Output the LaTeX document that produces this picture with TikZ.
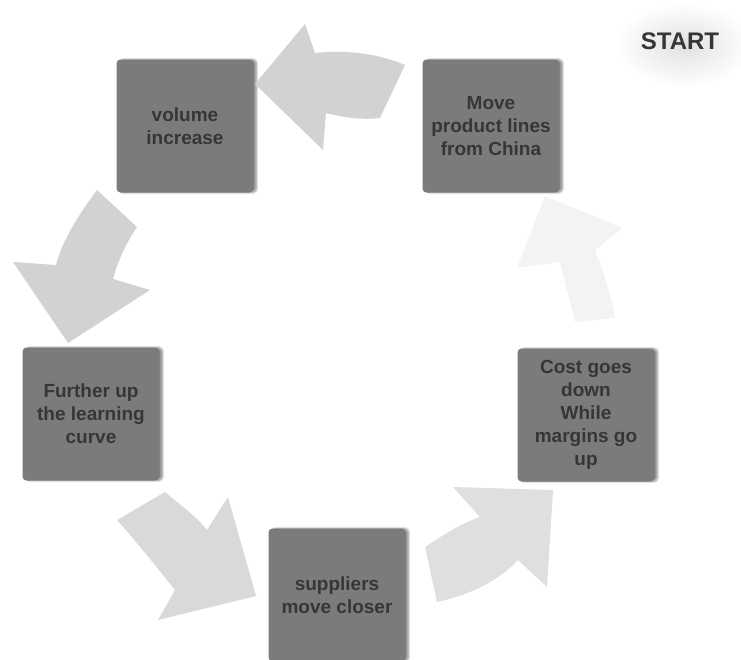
\documentclass[tikz,border=0pt]{standalone}
\usepackage{fontspec}
\setmainfont{Liberation Sans}
\usepackage{tikz}
\usetikzlibrary{shadows.blur}
\definecolor{boxGray}{HTML}{7B7B7B}
\definecolor{txtGray}{HTML}{363636}
\definecolor{arrGray}{HTML}{D2D2D2}
\definecolor{arrPale}{HTML}{F3F3F3}

\begin{document}
\begin{tikzpicture}[x=1pt,y=-1pt,
  stage/.style={fill=boxGray,rounded corners=4pt,text=txtGray,inner sep=0pt,
    font=\fontsize{19}{23}\selectfont\bfseries,align=center,
    minimum width=137pt,minimum height=133pt,
    blur shadow={shadow xshift=3pt,shadow yshift=0pt,shadow blur steps=6,shadow opacity=45}},
  bigarrow/.style={fill=arrGray,draw=none}]
\useasboundingbox (0,0) rectangle (741,659);
% glow behind the start label
\shade[inner color=black!12,outer color=white] (684,45) ellipse (68 and 42);
\node[font=\fontsize{24}{28}\selectfont\bfseries,text=txtGray] (start) at (680,41){START};
% the five stages of the cycle
\node[stage] (move)    at (491,126){Move\\product lines\\from China};
\node[stage] (volume)  at (185,126){volume\\increase};
\node[stage] (further) at (91,414){Further up\\the learning\\curve};
\node[stage] (supp)    at (337,595){suppliers\\move closer};
\node[stage] (cost)    at (586,415){Cost goes\\down\\While\\margins go\\up};
% block arrows between the stages
\fill[bigarrow] (405,65) .. controls (375,52) and (340,50) .. (315,53) -- (305,24) -- (255,84)
  -- (323,150) -- (326,113) .. controls (345,118) and (365,120) .. (380,118) -- cycle;
\fill[bigarrow] (97,190) .. controls (82,210) and (62,240) .. (56,265) -- (13,262) -- (68,343)
  -- (150,290) -- (113,279) .. controls (118,260) and (128,240) .. (137,227) -- cycle;
\fill[bigarrow,fill=arrGray!85] (117,520) -- (165,492) .. controls (180,505) and (195,515) .. (207,530)
  -- (228,497) -- (256,596) -- (158,620) -- (175,590) .. controls (155,565) and (135,540) .. (117,520) -- cycle;
\fill[bigarrow,fill=arrGray!70] (425,547) .. controls (443,535) and (462,523) .. (480,517) -- (453,487)
  -- (553,490) -- (547,587) -- (518,560) .. controls (500,580) and (470,595) .. (437,602) -- cycle;
\fill[bigarrow,fill=arrPale] (575,322) .. controls (570,300) and (565,285) .. (560,262) -- (517,268)
  -- (545,196) -- (622,228) -- (595,250) .. controls (605,275) and (612,300) .. (615,318) -- cycle;
\end{tikzpicture}
\end{document}
